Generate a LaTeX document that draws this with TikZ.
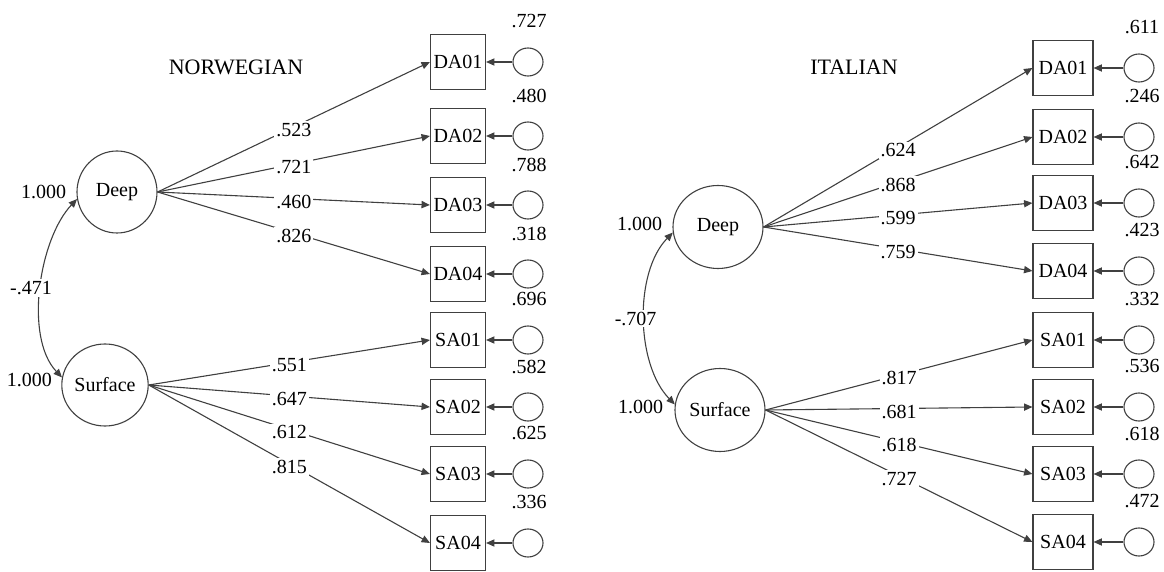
\documentclass[tikz,border=0pt]{standalone}
\usepackage{fontspec}
\setmainfont{Liberation Serif}
\usetikzlibrary{arrows.meta,calc,shapes.geometric}
\begin{document}
\begin{tikzpicture}[x=0.5pt,y=-0.5pt,
  every node/.style={font=\fontsize{10}{12}\selectfont, text=black},
  title/.style={font=\fontsize{11}{13}\selectfont},
  latL/.style={ellipse, draw=black!75, line width=0.55pt, inner sep=0pt, minimum width=40pt, minimum height=41pt},
  latR/.style={ellipse, draw=black!75, line width=0.55pt, inner sep=0pt, minimum width=45pt, minimum height=41.5pt},
  obsL/.style={rectangle, draw=black!75, line width=0.55pt, inner sep=0pt, minimum width=27.5pt, minimum height=27.5pt},
  obsR/.style={rectangle, draw=black!75, line width=0.55pt, inner sep=0pt, minimum width=30pt, minimum height=27.5pt},
  err/.style={ellipse, draw=black!75, line width=0.55pt, inner sep=0pt, minimum width=15pt, minimum height=14pt},
  arr/.style={draw=black!75, line width=0.55pt, -{Triangle[length=4.2pt,width=3.6pt]}},
  arr2/.style={draw=black!75, line width=0.55pt, {Triangle[length=4.2pt,width=3.6pt]}-{Triangle[length=4.2pt,width=3.6pt]}},
  elab/.style={fill=white, inner sep=1pt, yshift=-1.5pt},
  lab/.style={inner sep=0pt}
]
\useasboundingbox (0,0) rectangle (1164,572);
% titles
\node[title] (tn) at (236,67) {NORWEGIAN};
\node[title] (ti) at (854,67) {ITALIAN};
% ---------- Norwegian ----------
\node[latL] (nd) at (117,192) {Deep};
\node[latL] (ns) at (105,385) {Surface};
\node[lab, anchor=east] (ndv) at ([xshift=-5pt]nd.west) {1.000};
\node[lab, anchor=east] (nsv) at ([xshift=-4.5pt,yshift=2.5pt]ns.west) {1.000};
\draw[arr2] (nd.190) .. controls ($(nd.190)+(-38,40)$) and ($(ns.170)+(-38,-40)$) .. node[pos=0.5, fill=white, inner sep=1pt, xshift=-5pt] (nc) {-.471} (ns.170);
\foreach \n/\y/\e/\l/\s in {DA01/62/.727/.523/nd, DA02/136/.480/.721/nd, DA03/205/.788/.460/nd, DA04/274/.318/.826/nd, SA01/340/.696/.551/ns, SA02/407/.582/.647/ns, SA03/474/.625/.612/ns, SA04/543/.336/.815/ns}{
  \node[obsL] (nb\n) at (458,\y) {\n};
  \node[err] (ne\n) at (528,\y) {};
  \node[lab] (nv\n) at (529,\y-40.5) {\e};
  \draw[arr] (\s.east) -- node[elab] {\l} (nb\n.west);
  \draw[arr] (ne\n.west) -- (nb\n.east);
}
% ---------- Italian ----------
\node[latR] (rd) at (718,227) {Deep};
\node[latR] (rs) at (720,410) {Surface};
\node[lab, anchor=east] (rdv) at ([xshift=-5pt,yshift=1.5pt]rd.west) {1.000};
\node[lab, anchor=east] (rsv) at ([xshift=-5.5pt,yshift=1.5pt]rs.west) {1.000};
\draw[arr2] (rd.187) .. controls ($(rd.187)+(-39,40)$) and ($(rs.173)+(-39,-40)$) .. node[pos=0.5, fill=white, inner sep=1pt, xshift=-4.5pt] (rc) {-.707} (rs.173);
\foreach \n/\y/\e/\l/\s in {DA01/68/.611/.624/rd, DA02/137/.246/.868/rd, DA03/203/.642/.599/rd, DA04/271/.423/.759/rd, SA01/340/.332/.817/rs, SA02/407/.536/.681/rs, SA03/474/.618/.618/rs, SA04/542/.472/.727/rs}{
  \node[obsR] (rb\n) at (1063,\y) {\n};
  \node[err] (re\n) at (1139,\y) {};
  \node[lab] (rv\n) at (1142,\y-40.5) {\e};
  \draw[arr] (\s.east) -- node[elab] {\l} (rb\n.west);
  \draw[arr] (re\n.west) -- (rb\n.east);
}
\end{tikzpicture}
\end{document}
